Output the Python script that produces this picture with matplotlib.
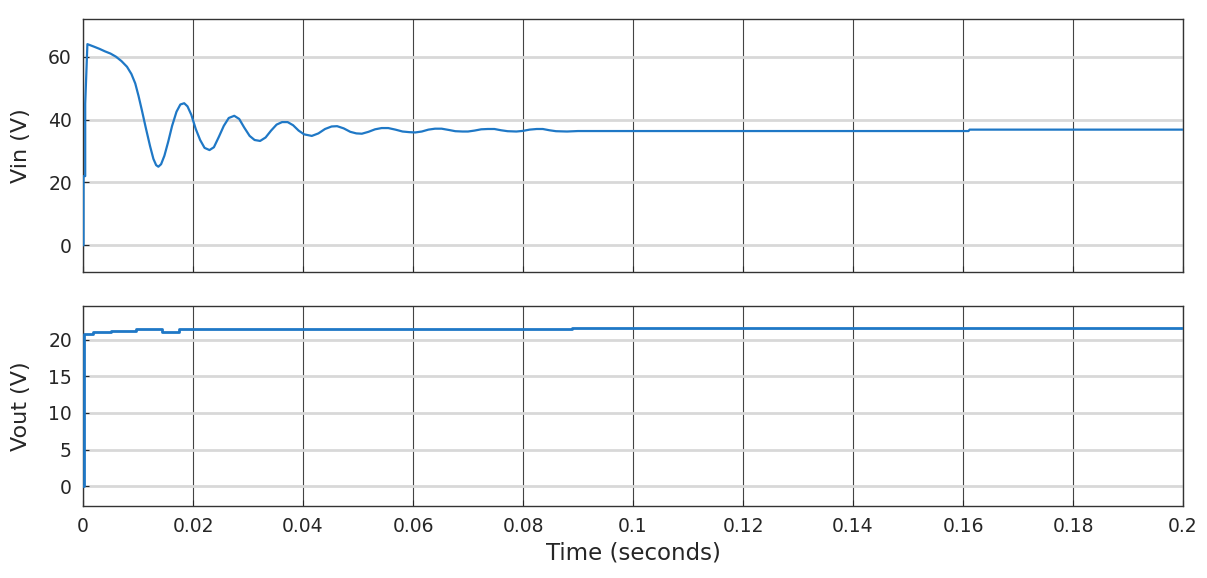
import matplotlib
matplotlib.use("Agg")
import matplotlib.pyplot as plt

# ---- data ----
t_vin = [0.0, 0.0001, 0.0001, 0.0004, 0.0004, 0.0008, 0.0020, 0.0030, 0.0040, 0.0050, 0.0060,
         0.0070, 0.0080, 0.0088, 0.0095, 0.0101, 0.0107, 0.0114, 0.0122, 0.0128, 0.0133,
         0.0137, 0.0142, 0.0148, 0.0155, 0.0162, 0.0170, 0.0177, 0.0184, 0.0190, 0.0197,
         0.0205, 0.0213, 0.0221, 0.0230, 0.0238, 0.0247, 0.0256, 0.0265, 0.0275, 0.0284,
         0.0293, 0.0303, 0.0312, 0.0322, 0.0332, 0.0342, 0.0352, 0.0362, 0.0372, 0.0382,
         0.0392, 0.0402, 0.0416, 0.0428, 0.0440, 0.0452, 0.0462, 0.0474, 0.0486, 0.0497,
         0.0507, 0.0519, 0.0531, 0.0543, 0.0555, 0.0568, 0.0581, 0.0593, 0.0604, 0.0616,
         0.0628, 0.0640, 0.0652, 0.0665, 0.0677, 0.0690, 0.0700, 0.0712, 0.0724, 0.0736,
         0.0748, 0.0760, 0.0772, 0.0788, 0.0800, 0.0812, 0.0825, 0.0836, 0.0848, 0.0860,
         0.0880, 0.0900, 0.1610, 0.1612, 0.2000]
v_vin = [0.0, 0.0, 22.0, 22.0, 45.0, 64.0, 63.2, 62.5, 61.7, 61.0, 60.0,
         58.6, 56.8, 54.5, 51.5, 47.5, 43.0, 37.5, 31.5, 27.5, 25.5,
         25.0, 25.8, 28.5, 33.0, 38.0, 42.5, 44.8, 45.2, 44.2, 41.5,
         37.0, 33.5, 31.0, 30.3, 31.2, 34.5, 38.0, 40.5, 41.2, 40.2,
         37.5, 34.8, 33.5, 33.2, 34.3, 36.5, 38.4, 39.2, 39.2, 38.2,
         36.5, 35.3, 34.8, 35.6, 37.0, 37.8, 37.9, 37.2, 36.1, 35.6,
         35.5, 36.1, 36.9, 37.3, 37.3, 36.8, 36.2, 36.0, 35.9, 36.2,
         36.8, 37.1, 37.1, 36.7, 36.3, 36.2, 36.2, 36.5, 36.9, 37.0,
         37.0, 36.6, 36.3, 36.2, 36.4, 36.8, 37.0, 37.0, 36.6, 36.3,
         36.2, 36.35, 36.35, 36.8, 36.8]

t_vout = [0.0, 0.0002, 0.0018, 0.0051, 0.0096, 0.0143, 0.0175, 0.0889, 0.2000]
v_vout = [0.0, 20.8, 21.0, 21.2, 21.4, 21.1, 21.4, 21.55, 21.55]

x_ticks = [0, 0.02, 0.04, 0.06, 0.08, 0.1, 0.12, 0.14, 0.16, 0.18, 0.2]
x_ticklabels = ["0", "0.02", "0.04", "0.06", "0.08", "0.1", "0.12", "0.14", "0.16", "0.18", "0.2"]
vin_ticks = [0, 20, 40, 60]
vout_ticks = [0, 5, 10, 15, 20]

# ---- style ----
line_color = "#1f78c6"
text_color = "#262626"
plt.rcParams["font.family"] = ["DejaVu Sans"]

W, H = 1207, 578
fig = plt.figure(figsize=(W / 100, H / 100), dpi=100)
left, right = 83 / W, 1183 / W
ax1 = fig.add_axes([left, 1 - 272 / H, right - left, (272 - 19) / H])
ax2 = fig.add_axes([left, 1 - 506 / H, right - left, (506 - 306) / H])

ax1.plot(t_vin, v_vin, color=line_color, lw=1.6, zorder=3)
ax2.plot(t_vout, v_vout, color=line_color, lw=2.0, drawstyle="steps-post", zorder=3)

ax1.set_ylim(-8.5, 72)
ax2.set_ylim(-2.7, 24.6)
ax1.set_yticks(vin_ticks)
ax2.set_yticks(vout_ticks)

for ax in (ax1, ax2):
    ax.set_xlim(0, 0.2)
    ax.set_xticks(x_ticks)
    ax.set_facecolor("white")
    ax.xaxis.grid(True, color="#444444", lw=0.8)
    ax.yaxis.grid(True, color="#d8d8d8", lw=2.0)
    ax.set_axisbelow(True)
    ax.tick_params(direction="in", length=4, width=0.8, colors=text_color,
                   labelsize=13.5, pad=8, top=False, right=False)
    for s in ax.spines.values():
        s.set_color("#333333")
        s.set_linewidth(1.0)

ax1.set_xticklabels([])
ax2.set_xticklabels(x_ticklabels)

ax1.set_ylabel("Vin (V)", fontsize=16, color=text_color)
ax2.set_ylabel("Vout (V)", fontsize=16, color=text_color)
ax1.yaxis.set_label_coords(-0.047, 0.5)
ax2.yaxis.set_label_coords(-0.047, 0.5)
ax2.set_xlabel("Time (seconds)", fontsize=16.5, color=text_color)
ax2.xaxis.set_label_coords(0.5, -0.18)

fig.savefig("out.png", dpi=100, facecolor="white")
